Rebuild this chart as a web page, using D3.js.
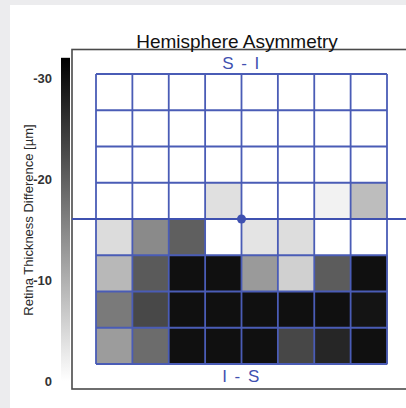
<!DOCTYPE html>
<html>
<head>
<meta charset="utf-8">
<script src="https://cdn.jsdelivr.net/npm/d3@7/dist/d3.min.js"></script>
<style>
  html, body { margin: 0; padding: 0; background: #ececee; }
  svg { display: block; }
  text { font-family: "Liberation Sans", Arial, sans-serif; }
</style>
</head>
<body>
<svg id="chart" width="406" height="408"></svg>
<script>
// Hemisphere asymmetry map: 8 x 8 retinal thickness differences (µm)
const columns = [0, 1, 2, 3, 4, 5, 6, 7];
const rows = [0, 1, 2, 3, 4, 5, 6, 7];

// Row-by-row values, top (superior) to bottom (inferior)
const row0 = [0, 0, 0, 0, 0, 0, 0, 0];
const row1 = [0, 0, 0, 0, 0, 0, 0, 0];
const row2 = [0, 0, 0, 0, 0, 0, 0, 0];
const row3 = [0, 0, 0, -3.9, 0, 0, -1.6, -8.3];
const row4 = [-4.4, -14.7, -20.1, 0, -3.4, -4.3, 0, 0];
const row5 = [-8.9, -20.7, -30, -30, -12.7, -5.9, -20.5, -30];
const row6 = [-16.7, -23.0, -30, -30, -30, -30, -30, -29.5];
const row7 = [-12.4, -18.4, -30, -30, -30, -23.1, -27.2, -30];
const gridValues = [row0, row1, row2, row3, row4, row5, row6, row7];

const colorTicks = [0, -10, -20, -30];
const colorDomain = [0, -32];

const title = "Hemisphere Asymmetry";
const topLabel = "S - I";
const bottomLabel = "I - S";
const axisTitle = "Retina Thickness Difference [µm]";

const W = 406, H = 408;
const blue = "#3f51b0";
const gridBlue = "#4a5cb6";

const svg = d3.select("#chart");

// page panel
svg.append("rect").attr("x", 0).attr("y", 0).attr("width", W).attr("height", H).attr("fill", "#ececee");
svg.append("rect").attr("x", 10).attr("y", 5).attr("width", W - 10).attr("height", H - 5).attr("fill", "#ffffff");

// plot frame
const frame = { left: 72, top: 49.5, right: 420, bottom: 389 };
svg.append("rect")
  .attr("x", frame.left).attr("y", frame.top)
  .attr("width", frame.right - frame.left).attr("height", frame.bottom - frame.top)
  .attr("fill", "#ffffff").attr("stroke", "#4a4a4a").attr("stroke-width", 1.6);

// scales
const x = d3.scaleBand().domain(columns).range([96, 387]).padding(0);
const y = d3.scaleBand().domain(rows).range([74, 364]).padding(0);
const color = d3.scaleLinear().domain(colorDomain).range(["#ffffff", "#000000"]).clamp(true);
const cbY = d3.scaleLinear().domain([0, -30]).range([381, 78]);

// cells
const cells = [];
gridValues.forEach((r, ri) => r.forEach((v, ci) => cells.push({ r: ri, c: ci, v })));
svg.append("g").selectAll("rect").data(cells).join("rect")
  .attr("x", d => x(d.c)).attr("y", d => y(d.r))
  .attr("width", x.bandwidth() + 0.5).attr("height", y.bandwidth() + 0.5)
  .attr("fill", d => color(Math.min(d.v, 0)));

// grid lines
const g = svg.append("g").attr("stroke", gridBlue).attr("stroke-width", 1.8).attr("fill", "none");
const xEdges = columns.map(c => x(c)).concat([x.range()[1]]);
const yEdges = rows.map(r => y(r)).concat([y.range()[1]]);
g.selectAll("line.v").data(xEdges).join("line").attr("class", "v")
  .attr("x1", d => d).attr("x2", d => d).attr("y1", y.range()[0]).attr("y2", y.range()[1]);
g.selectAll("line.h").data(yEdges).join("line").attr("class", "h")
  .attr("y1", d => d).attr("y2", d => d).attr("x1", x.range()[0]).attr("x2", x.range()[1]);

// hemisphere divider and centre point
const midY = (y.range()[0] + y.range()[1]) / 2;
const midX = (x.range()[0] + x.range()[1]) / 2;
svg.append("line").attr("x1", frame.left).attr("x2", W).attr("y1", midY).attr("y2", midY)
  .attr("stroke", blue).attr("stroke-width", 2);
svg.append("circle").attr("cx", midX).attr("cy", midY).attr("r", 4.5).attr("fill", blue);

// hemisphere labels
svg.append("text").attr("x", midX).attr("y", 69).attr("text-anchor", "middle")
  .attr("font-size", 17).attr("letter-spacing", 1.5).attr("fill", blue).text(topLabel);
svg.append("text").attr("x", midX).attr("y", 382).attr("text-anchor", "middle")
  .attr("font-size", 17).attr("letter-spacing", 1.5).attr("fill", blue).text(bottomLabel);

// title
svg.append("text").attr("x", 237).attr("y", 47.5).attr("text-anchor", "middle")
  .attr("font-size", 19).attr("fill", "#111").text(title);

// colour bar
const defs = svg.append("defs");
const grad = defs.append("linearGradient").attr("id", "cbar")
  .attr("x1", 0).attr("y1", 1).attr("x2", 0).attr("y2", 0);
grad.selectAll("stop").data(d3.range(0, 1.0001, 0.1)).join("stop")
  .attr("offset", d => d)
  .attr("stop-color", d => color(colorDomain[0] + d * (colorDomain[1] - colorDomain[0])));
svg.append("rect").attr("x", 61).attr("y", cbY(colorDomain[1]))
  .attr("width", 9).attr("height", cbY(colorDomain[0]) - cbY(colorDomain[1]))
  .attr("fill", "url(#cbar)");

const axis = d3.axisLeft(cbY).tickValues(colorTicks).tickSize(0).tickPadding(9)
  .tickFormat(d => d3.format("d")(d).replace("−", "-"));
const ax = svg.append("g").attr("transform", "translate(61,0)").call(axis);
ax.select(".domain").remove();
ax.selectAll("text").attr("font-size", 13).attr("font-weight", "bold").attr("fill", "#333")
  .attr("font-family", "'Liberation Sans', Arial, sans-serif");

// colour bar title
svg.append("text").attr("transform", "translate(33,220) rotate(-90)")
  .attr("text-anchor", "middle").attr("font-size", 13).attr("fill", "#2a2a2a").text(axisTitle);
</script>
</body>
</html>
